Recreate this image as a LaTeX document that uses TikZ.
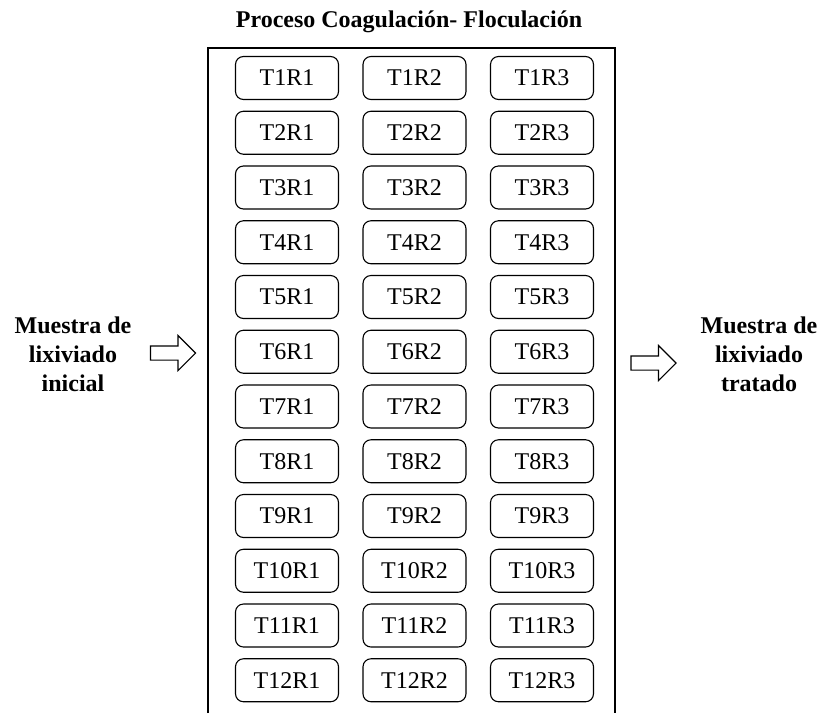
\documentclass[tikz,border=0pt]{standalone}
\usepackage{fontspec}
\setmainfont{Liberation Serif}
\usetikzlibrary{shapes.arrows}

\begin{document}
\begin{tikzpicture}[
                x=1pt, y=-1pt,
                every node/.style={font=\fontsize{24}{29}\selectfont},
                trial/.style={draw, rounded corners=8pt, line width=1.1pt,
                    minimum width=103pt, minimum height=43pt, inner sep=0pt},
                sidetext/.style={font=\fontsize{24}{29}\selectfont\bfseries, align=center},
                blockarrow/.style={draw, single arrow, line width=1.1pt, inner sep=6.5pt,
                    minimum height=45pt, single arrow head extend=10.5pt}
            ]
                \useasboundingbox (0,0) rectangle (821,713);
                \node[font=\fontsize{24}{29}\selectfont\bfseries] (title) at (409, 22) {Proceso Coagulación- Floculación};
                % frame, open at the bottom
                \draw[line width=1.2pt] (208,713) -- (208,48) -- (615,48) -- (615,713);
                % trials x replicates
                \foreach \i in {1,...,12}
                    \foreach \j in {1,2,3}
                        \node[trial] (t\i r\j) at ({287+127.5*(\j-1)}, {78+54.75*(\i-1)}) {T\i R\j};
                \node[sidetext] (inicial) at (73, 354) {Muestra de\\lixiviado\\inicial};
                \node[sidetext] (tratado) at (759, 354) {Muestra de\\lixiviado\\tratado};
                \node[blockarrow] (in) at (169.5, 353) {};
                \node[blockarrow] (out) at (650, 363) {};
            \end{tikzpicture}
\end{document}
